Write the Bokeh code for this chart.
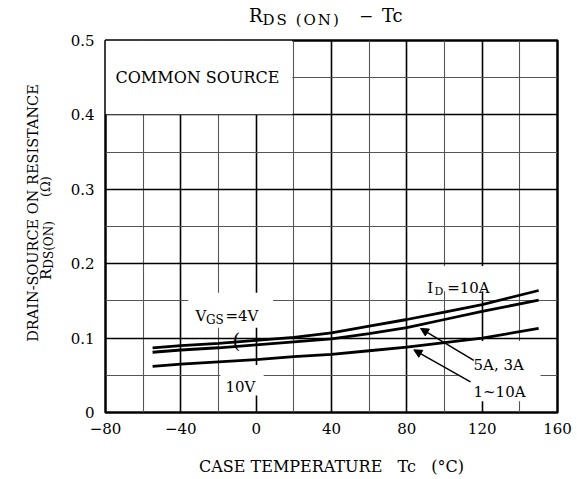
from bokeh.plotting import figure
from bokeh.models import Range1d, FixedTicker, Label, Arrow, NormalHead, Div
from bokeh.layouts import column, row
from bokeh.embed import file_html
from bokeh.resources import INLINE

# ---------------- data ----------------
tc = [-55, -40, -20, 0, 20, 40, 60, 80, 100, 120, 150]
r_vgs4_id10 = [0.087, 0.090, 0.093, 0.097, 0.101, 0.107, 0.116, 0.125, 0.135, 0.145, 0.164]
r_vgs4_id5_3 = [0.081, 0.084, 0.087, 0.091, 0.095, 0.099, 0.106, 0.114, 0.125, 0.136, 0.151]
r_vgs10 = [0.062, 0.065, 0.068, 0.071, 0.075, 0.078, 0.083, 0.088, 0.094, 0.100, 0.113]

x_ticks = [-80, -40, 0, 40, 80, 120, 160]
x_tick_labels = ["\u221280", "\u221240", "0", "40", "80", "120", "160"]
x_minor = [-60, -20, 20, 60, 100, 140]
y_ticks = [0, 0.1, 0.2, 0.3, 0.4, 0.5]
y_tick_labels = ["0", "0.1", "0.2", "0.3", "0.4", "0.5"]
y_minor = [0.05, 0.15, 0.25, 0.35, 0.45]

x_label = "CASE TEMPERATURE\u00a0\u00a0\u00a0Tc\u00a0\u00a0\u00a0(\u00b0C)"
y_label_1 = "DRAIN-SOURCE ON RESISTANCE"

# ---------------- layout helpers ----------------
TOTAL_W = 575
TITLE_H = 30
YLAB_W = 60
FL, FR, FT, FB = 105, 557, 40, 416   # frame edges in picture pixels
BOTTOM_BORDER = 62
X0, X1, Y0, Y1 = -80, 160, 0, 0.5

def dx(px):
    return X0 + (px - FL) * (X1 - X0) / (FR - FL)

def dy(py):
    return Y0 + (FB - py) * (Y1 - Y0) / (FB - FT)

FONT = "DejaVu Serif"

fig_x0 = YLAB_W
fig_y0 = TITLE_H
fig_w = TOTAL_W - YLAB_W
fig_h = FB - fig_y0 + BOTTOM_BORDER

p = figure(width=fig_w, height=fig_h, output_backend="svg", toolbar_location=None,
           x_range=Range1d(X0, X1), y_range=Range1d(Y0, Y1),
           min_border_left=FL - fig_x0, min_border_right=fig_x0 + fig_w - FR,
           min_border_top=FT - fig_y0, min_border_bottom=BOTTOM_BORDER)
try:
    p.title = None
except Exception:
    p.title.visible = False
p.background_fill_color = "white"
p.border_fill_color = "white"
p.outline_line_color = "black"
p.outline_line_width = 2.5

for ax, ticks, labels in ((p.xaxis[0], x_ticks, x_tick_labels), (p.yaxis[0], y_ticks, y_tick_labels)):
    ax.ticker = FixedTicker(ticks=ticks)
    ax.major_label_overrides = dict(zip(ticks, labels))
    ax.axis_line_color = None
    ax.major_tick_line_color = None
    ax.minor_tick_line_color = None
    ax.major_label_text_font = FONT
    ax.major_label_text_font_size = "15px"
    ax.major_label_text_color = "black"
p.xaxis.major_label_standoff = 4
p.yaxis.major_label_standoff = 5
p.xaxis.axis_label = x_label
p.xaxis.axis_label_text_font = FONT
p.xaxis.axis_label_text_font_size = "16px"
p.xaxis.axis_label_text_font_style = "normal"
p.xaxis.axis_label_text_color = "black"
p.xaxis.axis_label_standoff = 20

p.xgrid.ticker = FixedTicker(ticks=x_ticks, minor_ticks=x_minor)
p.ygrid.ticker = FixedTicker(ticks=y_ticks, minor_ticks=y_minor)
for g in (p.xgrid[0], p.ygrid[0]):
    g.grid_line_color = "black"
    g.grid_line_width = 1.6
    g.minor_grid_line_color = "#555555"
    g.minor_grid_line_width = 1.1

# white label boxes (cover grid)
box_l = [X0, -36, -19, 88, 107]
box_r = [19.2, 9, 4, 130, 151]
box_b = [0.401, 0.114, 0.023, 0.163, 0.015]
box_t = [Y1, 0.161, 0.064, 0.197, 0.096]
p.quad(left=box_l, right=box_r, bottom=box_b, top=box_t,
       fill_color="white", line_color=None)

# curves
for ys in (r_vgs4_id10, r_vgs4_id5_3, r_vgs10):
    p.line(tc, ys, line_color="black", line_width=2.8)

# arrows
for (sx, sy, ex, ey) in ((473.3, 363.3, 420, 331), (470, 385, 413.3, 352.7)):
    p.add_layout(Arrow(end=NormalHead(size=8, fill_color="black", line_color="black"),
                       x_start=dx(sx), y_start=dy(sy), x_end=dx(ex), y_end=dy(ey),
                       line_color="black", line_width=1.5))

def lab(text, px, py, size, align="left", baseline="alphabetic"):
    p.add_layout(Label(x=dx(px), y=dy(py), text=text, text_font=FONT,
                       text_font_size=size, text_align=align, text_baseline=baseline,
                       text_color="black"))

# in-plot annotations
lab("COMMON SOURCE", 115, 77.3, "16px", baseline="middle")
lab("I", 426.7, 290, "15px")
lab("D", 434, 294, "11px")
lab("=10A", 446.7, 290, "15px")
lab("5A, 3A", 473, 368.3, "15px")
lab("1~10A", 473, 395, "15px")
lab("10V", 225, 390, "15px")
lab("V", 195, 318, "15px")
lab("GS", 205.5, 323, "12px")
lab("=4V", 225, 318, "15px")
lab("(", 236, 344, "20px", align="center", baseline="middle")

# ---------------- title (HTML, with subscript) ----------------
def abs_span(html, left, top, size):
    return ('<span style="position:absolute;left:%.1fpx;top:%.1fpx;font-size:%s;'
            'line-height:20px;white-space:nowrap;">%s</span>' % (left, top, size, html))

title_html = (
    '<div style="position:relative;width:%dpx;height:%dpx;font-family:\'DejaVu Serif\';color:black;">' % (TOTAL_W, TITLE_H)
    + abs_span('R<sub style="font-size:15px;vertical-align:-3px;letter-spacing:2px;">DS (ON)</sub>', 249, 6, "18px")
    + abs_span('\u2212', 359, 6, "17px")
    + abs_span('Tc', 382, 6, "18px")
    + '</div>')
title_div = Div(text=title_html, width=TOTAL_W, height=TITLE_H, margin=(0, 0, 0, 0))

# ---------------- y label (HTML, rotated) ----------------
def rot_span(html, left, top, size, width=None):
    w = "width:%dpx;text-align:center;" % width if width else ""
    return ('<div style="position:absolute;left:%.1fpx;top:%.1fpx;font-size:%s;line-height:16px;'
            'height:16px;white-space:nowrap;transform:rotate(-90deg);transform-origin:0 0;%s">%s</div>'
            % (left, top, size, w, html))

ylab_html = (
    '<div style="position:relative;width:%dpx;height:%dpx;font-family:\'DejaVu Serif\';color:black;">' % (YLAB_W, fig_h)
    + rot_span(y_label_1, 37 - 12.5, 213 - fig_y0 + 150, "14.5px", width=300)
    + rot_span('R<sub style="font-size:12px;vertical-align:-2px;">DS(ON)</sub>', 50.5 - 12.5, 280 - fig_y0, "15px")
    + rot_span('(\u03a9)', 50.5 - 12.5, 197 - fig_y0, "13px")
    + '</div>')
ylab_div = Div(text=ylab_html, width=YLAB_W, height=fig_h, margin=(0, 0, 0, 0))

layout = column(title_div, row(ylab_div, p, spacing=0), spacing=0)

open("out.html", "w").write(file_html(layout, INLINE))
